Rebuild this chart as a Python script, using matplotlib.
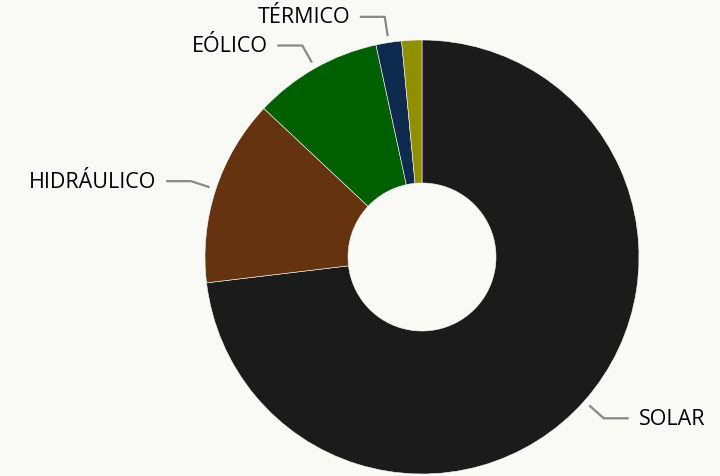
import numpy as np
import matplotlib
matplotlib.use("Agg")
import matplotlib.pyplot as plt

labels = ["SOLAR", "HIDRÁULICO", "EÓLICO", "TÉRMICO", "OTROS"]
values = [73.1, 13.9, 9.6, 1.9, 1.5]
colors = ["#1b1b1b", "#663310", "#006000", "#0f2a4f", "#8f8f00"]
show_label = [True, True, True, True, False]

bg = "#f9faf6"
W, H = 720, 477
cx, cy, R = 422, 258, 217

fig = plt.figure(figsize=(W / 100, H / 100), dpi=100, facecolor=bg)
ax = fig.add_axes([0, 0, 1, 1])
ax.set_facecolor(bg)
ax.axis("off")

wedges, _ = ax.pie(values, colors=colors, startangle=90, counterclock=False,
                   radius=1.0, wedgeprops=dict(width=1 - 74 / 217, edgecolor=bg, linewidth=0.4),
                   frame=False)
ax.set_xlim(-cx / R, (W - cx) / R)
ax.set_ylim(-(H - cy) / R, cy / R)
ax.set_aspect("auto")

for w, lab, show in zip(wedges, labels, show_label):
    if not show:
        continue
    ang = np.deg2rad((w.theta1 + w.theta2) / 2)
    x0, y0 = 1.03 * np.cos(ang), 1.03 * np.sin(ang)
    x1, y1 = 1.12 * np.cos(ang), 1.12 * np.sin(ang)
    sgn = 1 if np.cos(ang) >= 0 else -1
    x2 = x1 + sgn * 0.115
    ax.plot([x0, x1, x2], [y0, y1, y1], color="#888888", lw=1.6, solid_capstyle="butt")
    ax.text(x2 + sgn * 0.045, y1, lab, ha="left" if sgn > 0 else "right", va="center",
            fontsize=15.5, family="Open Sans", color="#000000")

fig.savefig("out.png", dpi=100, facecolor=bg)
